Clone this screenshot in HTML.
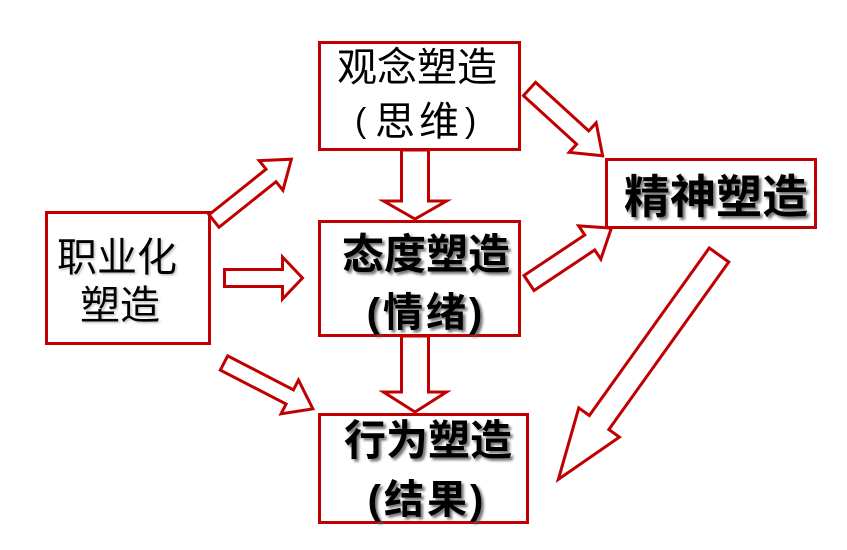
<!DOCTYPE html>
<html>
<head>
<meta charset="utf-8">
<style>
  html,body{margin:0;padding:0;background:#fff;}
  svg{display:block;}
  text{font-family:"Liberation Sans","Noto Sans CJK SC",sans-serif;fill:#000;}
  .b{font-weight:bold;}
</style>
</head>
<body>
<svg width="847" height="550" viewBox="0 0 847 550" xmlns="http://www.w3.org/2000/svg">
  <defs>
    <filter id="sh" x="-10%" y="-20%" width="130%" height="150%">
      <feDropShadow dx="2.5" dy="2.5" stdDeviation="1.2" flood-color="#555" flood-opacity="0.8"/>
    </filter>
    <filter id="sh2" x="-10%" y="-20%" width="130%" height="150%">
      <feDropShadow dx="1.5" dy="1.5" stdDeviation="1" flood-color="#999" flood-opacity="0.6"/>
    </filter>
  </defs>
  <rect width="847" height="550" fill="#fff"/>

  <g fill="#fff" stroke="#c00000" stroke-width="3" stroke-linejoin="miter">
    <rect x="319.5" y="42.5" width="200" height="107"/>
    <rect x="46.5" y="212.5" width="163" height="131"/>
    <rect x="319.5" y="221.5" width="200" height="114"/>
    <rect x="606.5" y="159.5" width="209" height="68"/>
    <rect x="319.5" y="414.5" width="208" height="108"/>

    <polygon transform="translate(214,221) rotate(-38.6)" points="0,-8 73,-8 73,-19 99,0 73,19 73,8 0,8"/>
    <polygon transform="translate(224.5,278) rotate(0)" points="0,-8.5 58,-8.5 58,-21 78,0 58,21 58,8.5 0,8.5"/>
    <polygon transform="translate(224,363) rotate(27.3)" points="0,-8 74,-8 74,-19 100,0 74,19 74,8 0,8"/>
    <polygon transform="translate(415,150) rotate(90)" points="0,-13.5 51,-13.5 51,-31.5 69,0 51,31.5 51,13.5 0,13.5"/>
    <polygon transform="translate(415,336) rotate(90)" points="0,-13.5 56,-13.5 56,-31.5 76,0 56,31.5 56,13.5 0,13.5"/>
    <polygon transform="translate(529.5,89) rotate(42.4)" points="0,-9 72,-9 72,-20 99,0 72,20 72,9 0,9"/>
    <polygon transform="translate(529,283) rotate(-33.7)" points="0,-9 73,-9 73,-20 99,0 73,20 73,9 0,9"/>
    <polygon transform="translate(719,255) rotate(125.6)" points="0,-12 206,-12 206,-25 276,0 206,25 206,12 0,12"/>
  </g>

  <text x="337" y="81" font-size="40">观念塑造</text>
  <text x="355" y="132" font-size="34">(</text>
  <text x="375" y="135" font-size="40">思</text>
  <text x="419" y="135" font-size="40">维</text>
  <text x="465" y="132" font-size="34">)</text>

  <g filter="url(#sh2)">
    <text x="57" y="271" font-size="40">职业化</text>
    <text x="80" y="319" font-size="40">塑造</text>
  </g>

  <g filter="url(#sh)">
    <text class="b" x="342" y="269" font-size="42">态度塑造</text>
    <text class="b" x="426" y="326" font-size="40" text-anchor="middle" letter-spacing="3">(情绪)</text>
    <text class="b" x="624" y="213" font-size="46">精神塑造</text>
    <text class="b" x="344" y="455" font-size="42">行为塑造</text>
    <text class="b" x="427" y="513" font-size="40" text-anchor="middle" letter-spacing="3">(结果)</text>
  </g>
</svg>
</body>
</html>
